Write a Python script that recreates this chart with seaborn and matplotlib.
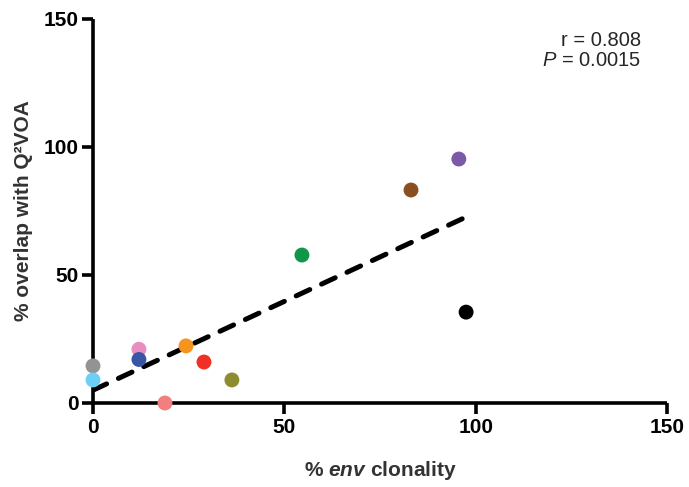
import matplotlib
matplotlib.use("Agg")
import matplotlib.pyplot as plt
import seaborn as sns
import pandas as pd

sns.set_style("ticks")
plt.rcParams['font.family'] = ['Liberation Sans', 'DejaVu Sans']
plt.rcParams['mathtext.fontset'] = 'custom'
plt.rcParams['mathtext.rm'] = 'Liberation Sans'
plt.rcParams['mathtext.it'] = 'Liberation Sans:italic'
plt.rcParams['mathtext.bf'] = 'Liberation Sans:bold'
try:
    plt.rcParams['mathtext.bfit'] = 'Liberation Sans:italic:bold'
    HAS_BFIT = True
except KeyError:
    HAS_BFIT = False

# data
participants = ["gray", "lightblue", "pink", "blue", "orange", "red", "olive",
                "salmon", "green", "brown", "purple", "black"]
env_clonality = [0, 0, 12, 12, 24.3, 29, 36.3, 18.8, 54.6, 83.1, 95.6, 97.5]
overlap_q2voa = [14.5, 9, 21, 17, 22.3, 16, 9, 0, 57.8, 83.2, 95.3, 35.5]
point_colors = ["#939393", "#6dcff6", "#e88dbf", "#3a55a4", "#f7941d", "#ee3124",
                "#8d8c31", "#f27e7e", "#0f9648", "#8b4f1f", "#7b59a6", "#000000"]
fit_x = [0, 98]
fit_y = [5, 73]
ticks = [0, 50, 100, 150]

df = pd.DataFrame({"x": env_clonality, "y": overlap_q2voa, "id": participants})

fig = plt.figure(figsize=(6.89, 4.87), dpi=100)
ax = fig.add_axes([93/689, 1-403/487, (667-93)/689, (403-19)/487])

ax.plot(fit_x, fit_y, color="black", lw=3.6, ls=(0, (3.0, 2.6)), zorder=3,
        solid_capstyle="round", dash_capstyle="round")
sns.scatterplot(data=df, x="x", y="y", hue="id", palette=point_colors,
                s=115, edgecolor="none", legend=False, ax=ax, zorder=4, clip_on=False)

ax.set_xlim(0, 150)
ax.set_ylim(0, 150)
ax.set_xticks(ticks)
ax.set_yticks(ticks)
ax.set_xticklabels([str(t) for t in ticks], fontweight="bold", fontsize=15)
ax.set_yticklabels([str(t) for t in ticks], fontweight="bold", fontsize=15)
for s in ["top", "right"]:
    ax.spines[s].set_visible(False)
for s in ["left", "bottom"]:
    ax.spines[s].set_linewidth(2.6)
    ax.spines[s].set_color("black")
    ax.spines[s].set_capstyle("butt")
ax.tick_params(width=2.6, length=8, colors="black")
ax.tick_params(axis="y", pad=2)
ax.tick_params(axis="x", pad=3)

if HAS_BFIT:
    xl = r"% $\mathbfit{env}$ clonality"
else:
    xl = "% env clonality"
ax.set_xlabel(xl, fontweight="bold", fontsize=15, color="#333333", labelpad=16)
ax.set_ylabel("% overlap with Q²VOA", fontweight="bold", fontsize=15,
              color="#333333", labelpad=8)

ax.text(0.955, 0.97, "r = 0.808\n$P$ = 0.0015", transform=ax.transAxes,
        ha="right", va="top", fontsize=14.5, linespacing=1.1)

fig.savefig("out.png", dpi=100)
